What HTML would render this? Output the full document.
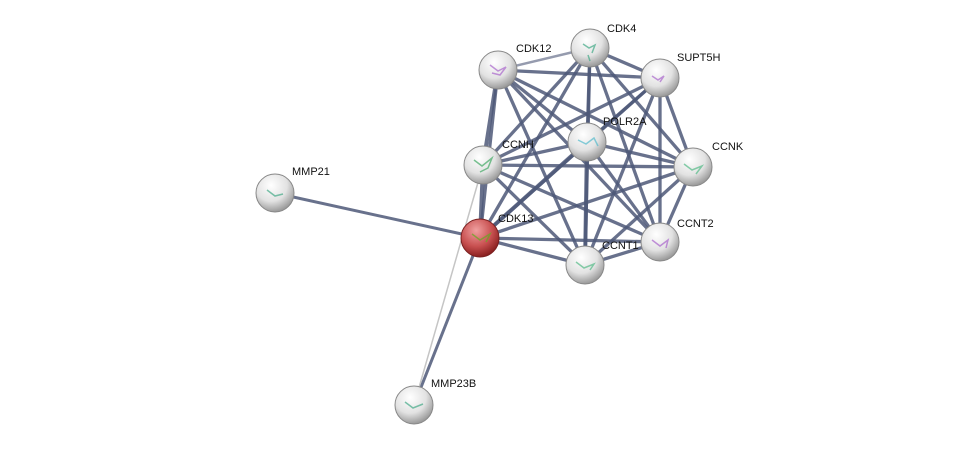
<!DOCTYPE html>
<html><head><style>
html,body{margin:0;padding:0;background:#fff;}
svg{display:block;}
text{font-family:"Liberation Sans",sans-serif;font-size:11px;fill:#111;}
</style></head><body>
<svg width="976" height="450" viewBox="0 0 976 450">
<defs>
<radialGradient id="g" cx="40%" cy="30%" r="70%">
<stop offset="0" stop-color="#ffffff"/><stop offset="0.6" stop-color="#e2e2e2"/><stop offset="1" stop-color="#9a9a9a"/>
</radialGradient>
<radialGradient id="r" cx="40%" cy="30%" r="70%">
<stop offset="0" stop-color="#f0a0a0"/><stop offset="0.6" stop-color="#c85050"/><stop offset="1" stop-color="#8a2020"/>
</radialGradient>
</defs>
<g stroke="#4e5878" stroke-opacity="0.85" stroke-linecap="round">
<line x1="275" y1="193" x2="480" y2="238" stroke-width="3"/>
<line x1="414" y1="405" x2="480" y2="238" stroke-width="3"/>
<line x1="414" y1="405" x2="483" y2="165" stroke="#bbbbbb" stroke-width="1.5"/>
<g stroke-width="3.3">
<line x1="590" y1="48" x2="498" y2="70" stroke-width="2.5" stroke-opacity="0.6"/>
<line x1="590" y1="48" x2="660" y2="78"/>
<line x1="590" y1="48" x2="587" y2="142"/>
<line x1="590" y1="48" x2="483" y2="165"/>
<line x1="590" y1="48" x2="693" y2="167"/>
<line x1="590" y1="48" x2="480" y2="238"/>
<line x1="590" y1="48" x2="660" y2="242"/>
<line x1="590" y1="48" x2="585" y2="265"/>
<line x1="498" y1="70" x2="660" y2="78"/>
<line x1="498" y1="70" x2="587" y2="142"/>
<line x1="498" y1="70" x2="483" y2="165" stroke-width="4"/>
<line x1="498" y1="70" x2="693" y2="167"/>
<line x1="498" y1="70" x2="480" y2="238"/>
<line x1="498" y1="70" x2="660" y2="242"/>
<line x1="498" y1="70" x2="585" y2="265"/>
<line x1="660" y1="78" x2="587" y2="142"/>
<line x1="660" y1="78" x2="483" y2="165"/>
<line x1="660" y1="78" x2="693" y2="167"/>
<line x1="660" y1="78" x2="480" y2="238"/>
<line x1="660" y1="78" x2="660" y2="242"/>
<line x1="660" y1="78" x2="585" y2="265"/>
<line x1="587" y1="142" x2="483" y2="165"/>
<line x1="587" y1="142" x2="693" y2="167"/>
<line x1="587" y1="142" x2="480" y2="238" stroke-width="4"/>
<line x1="587" y1="142" x2="660" y2="242"/>
<line x1="587" y1="142" x2="585" y2="265" stroke-width="4"/>
<line x1="483" y1="165" x2="693" y2="167"/>
<line x1="483" y1="165" x2="480" y2="238" stroke-width="4"/>
<line x1="483" y1="165" x2="660" y2="242"/>
<line x1="483" y1="165" x2="585" y2="265"/>
<line x1="693" y1="167" x2="480" y2="238"/>
<line x1="693" y1="167" x2="660" y2="242"/>
<line x1="693" y1="167" x2="585" y2="265"/>
<line x1="480" y1="238" x2="660" y2="242"/>
<line x1="480" y1="238" x2="585" y2="265"/>
<line x1="660" y1="242" x2="585" y2="265"/>
</g>
</g>
<g stroke="#888" stroke-width="1">
<circle cx="590" cy="48" r="19" fill="url(#g)"/>
<circle cx="498" cy="70" r="19" fill="url(#g)"/>
<circle cx="660" cy="78" r="19" fill="url(#g)"/>
<circle cx="587" cy="142" r="19" fill="url(#g)"/>
<circle cx="483" cy="165" r="19" fill="url(#g)"/>
<circle cx="693" cy="167" r="19" fill="url(#g)"/>
<circle cx="275" cy="193" r="19" fill="url(#g)"/>
<circle cx="480" cy="238" r="19" fill="url(#r)" stroke="#7a2020"/>
<circle cx="660" cy="242" r="19" fill="url(#g)"/>
<circle cx="585" cy="265" r="19" fill="url(#g)"/>
<circle cx="414" cy="405" r="19" fill="url(#g)"/>
</g>
<g fill="none" stroke-width="1.5" opacity="0.7">
<path d="M583 44 l6 4 l6 -3 l-3 8 M588 55 l2 6" stroke="#4a8"/>
<path d="M490 65 l8 6 l8 -4 l-6 8 l-8 -2" stroke="#a6c"/>
<path d="M652 76 l6 4 l6 -4 l-4 6" stroke="#a6c"/>
<path d="M578 140 l8 4 l8 -6 l4 8" stroke="#5bc"/>
<path d="M474 160 l8 6 l10 -8 l-4 10 l-8 4" stroke="#4a6"/>
<path d="M684 164 l8 6 l10 -4 l-6 8" stroke="#5b8"/>
<path d="M267 190 l8 6 l8 -2" stroke="#4a8"/>
<path d="M472 234 l8 6 l10 -6 l-4 8" stroke="#6a2"/>
<path d="M652 240 l8 6 l8 -6 l-2 8" stroke="#a6c"/>
<path d="M576 262 l8 6 l10 -4 l-4 6" stroke="#5b8"/>
<path d="M405 402 l8 6 l10 -4" stroke="#4a8"/>
</g>
<text x="607" y="32">CDK4</text>
<text x="516" y="52">CDK12</text>
<text x="677" y="61">SUPT5H</text>
<text x="603" y="125">POLR2A</text>
<text x="502" y="148">CCNH</text>
<text x="712" y="150">CCNK</text>
<text x="292" y="175">MMP21</text>
<text x="498" y="222">CDK13</text>
<text x="677" y="227">CCNT2</text>
<text x="602" y="249">CCNT1</text>
<text x="431" y="387">MMP23B</text>
</svg>
</body></html>
